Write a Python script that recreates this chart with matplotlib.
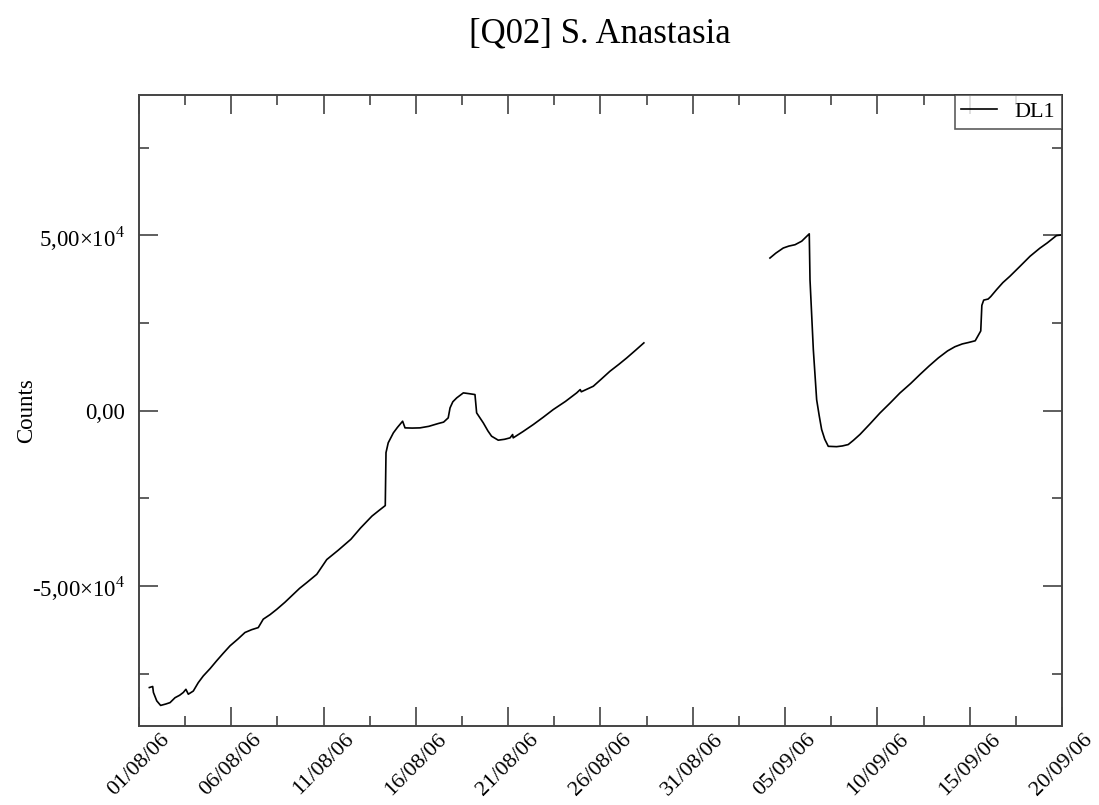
import pandas as pd
import matplotlib
matplotlib.use("Agg")
import matplotlib.pyplot as plt
import matplotlib.dates as mdates
from matplotlib.ticker import FixedLocator, FuncFormatter

plt.rcParams['font.family'] = ['Liberation Serif', 'DejaVu Serif']
plt.rcParams['mathtext.fontset'] = 'custom'
plt.rcParams['mathtext.rm'] = 'Liberation Serif'

start = pd.Timestamp('2006-08-01')

# days since 01/08/06 and logger counts, first run (before the gap)
seg1_days = [0.56, 0.74, 0.78, 0.96, 1.17, 1.45, 1.68, 1.95, 2.2, 2.4, 2.54, 2.67,
             2.94, 3.21, 3.48, 3.85, 4.2, 4.55, 4.93, 5.35, 5.74, 6.1, 6.46, 6.73,
             7.1, 7.46, 7.9, 8.36, 8.7, 9.08, 9.63, 10.17, 10.8, 11.48, 12.0, 12.62,
             13.0, 13.34, 13.38, 13.5, 13.78, 14.0, 14.28, 14.41, 14.8, 15.22, 15.7,
             16.21, 16.5, 16.75, 16.85, 17.0, 17.21, 17.57, 17.9, 18.2, 18.29, 18.65,
             18.9, 19.1, 19.46, 19.8, 20.1, 20.24, 20.27, 20.8, 21.36, 21.9, 22.44,
             23.1, 23.71, 23.9, 23.96, 24.61, 25.05, 25.51, 26.0, 26.42, 26.9, 27.35]
seg1_counts = [-79000, -78700, -80400, -82800, -84100, -83700, -83300, -81900, -81200,
               -80400, -79500, -80900, -80000, -77600, -75700, -73600, -71400, -69300,
               -67100, -65200, -63300, -62500, -61900, -59500, -58200, -56700, -54700,
               -52400, -50700, -49100, -46700, -42500, -39800, -36700, -33500, -30100,
               -28500, -27100, -12000, -9200, -6350, -4800, -3040, -4940, -5000, -4940,
               -4500, -3700, -3300, -2090, 770, 2500, 3610, 5040, 4800, 4560, -660,
               -3510, -5800, -7320, -8450, -8200, -7790, -6840, -7790, -6000, -3990,
               -1900, 280, 2600, 5040, 5980, 5350, 6930, 9000, 11200, 13200, 15000,
               17200, 19300]

# second run (after the gap)
seg2_days = [34.18, 34.5, 34.9, 35.2, 35.54, 35.9, 36.31, 36.35, 36.53, 36.71, 36.85,
             36.98, 37.15, 37.34, 37.79, 38.1, 38.42, 38.7, 39.06, 39.6, 40.14, 40.7,
             41.22, 41.8, 42.31, 42.8, 43.3, 43.8, 44.2, 44.6, 44.93, 45.3, 45.6,
             45.66, 45.76, 46.0, 46.14, 46.46, 46.8, 47.18, 47.7, 48.27, 48.8, 49.2,
             49.7, 50.0]
seg2_counts = [43500, 44900, 46350, 46900, 47300, 48300, 50400, 37300, 17400, 3100,
               -1500, -5400, -8200, -10200, -10300, -10100, -9700, -8500, -6800, -3800,
               -700, 2200, 5000, 7700, 10300, 12700, 15000, 17000, 18200, 19000, 19400,
               19900, 22700, 30000, 31500, 31800, 32500, 34500, 36500, 38300, 41000,
               44000, 46300, 47800, 49900, 50100]

y_major = [-50000, 0, 50000]
y_labels = ['-5,00×10$^{4}$', '0,00', '5,00×10$^{4}$']


def to_dates(days):
    return start + pd.to_timedelta(days, unit='D')


fig = plt.figure(figsize=(10.99, 8.05), dpi=100)
ax = fig.add_axes([0.1265, 0.098, 0.8398, 0.784])

ax.plot(to_dates(seg1_days), seg1_counts, color='black', lw=1.2, label='DL1')
ax.plot(to_dates(seg2_days), seg2_counts, color='black', lw=1.2)

ax.set_xlim(start, start + pd.Timedelta(days=50))
ax.set_ylim(-90000, 90000)

major_x = [start + pd.Timedelta(days=5 * i) for i in range(11)]
minor_x = [start + pd.Timedelta(days=5 * i + 2.5) for i in range(10)]
ax.xaxis.set_major_locator(FixedLocator(mdates.date2num(major_x)))
ax.xaxis.set_minor_locator(FixedLocator(mdates.date2num(minor_x)))
ax.xaxis.set_major_formatter(mdates.DateFormatter('%d/%m/%y'))

ax.yaxis.set_major_locator(FixedLocator(y_major))
ax.yaxis.set_minor_locator(FixedLocator([-75000, -25000, 25000, 75000]))
ax.yaxis.set_major_formatter(FuncFormatter(lambda v, p: y_labels[y_major.index(int(round(v)))]))

ax.tick_params(which='both', direction='in', top=True, right=True, width=1.1, colors='#333333')
ax.tick_params(which='major', length=13.5)
ax.tick_params(which='minor', length=7)
ax.tick_params(axis='y', which='major', labelsize=16.5, pad=10, labelcolor='black')
ax.tick_params(axis='x', which='major', labelsize=16, pad=3, labelcolor='black')
for lab in ax.get_xticklabels():
    lab.set_rotation(45)
    lab.set_ha('center')

for sp in ax.spines.values():
    sp.set_color('#444444')
    sp.set_linewidth(1.4)

ax.set_ylabel('Counts', fontsize=16.5, labelpad=-4)
fig.suptitle('[Q02] S. Anastasia', fontsize=25, x=0.546, y=0.978)

leg = ax.legend(loc='upper right', fontsize=16, fancybox=False, borderaxespad=0,
                handlelength=1.6, handletextpad=0.8, borderpad=0.3)
leg.get_frame().set_edgecolor('#333333')
leg.get_frame().set_linewidth(1.2)

fig.savefig('out.png', dpi=100)
